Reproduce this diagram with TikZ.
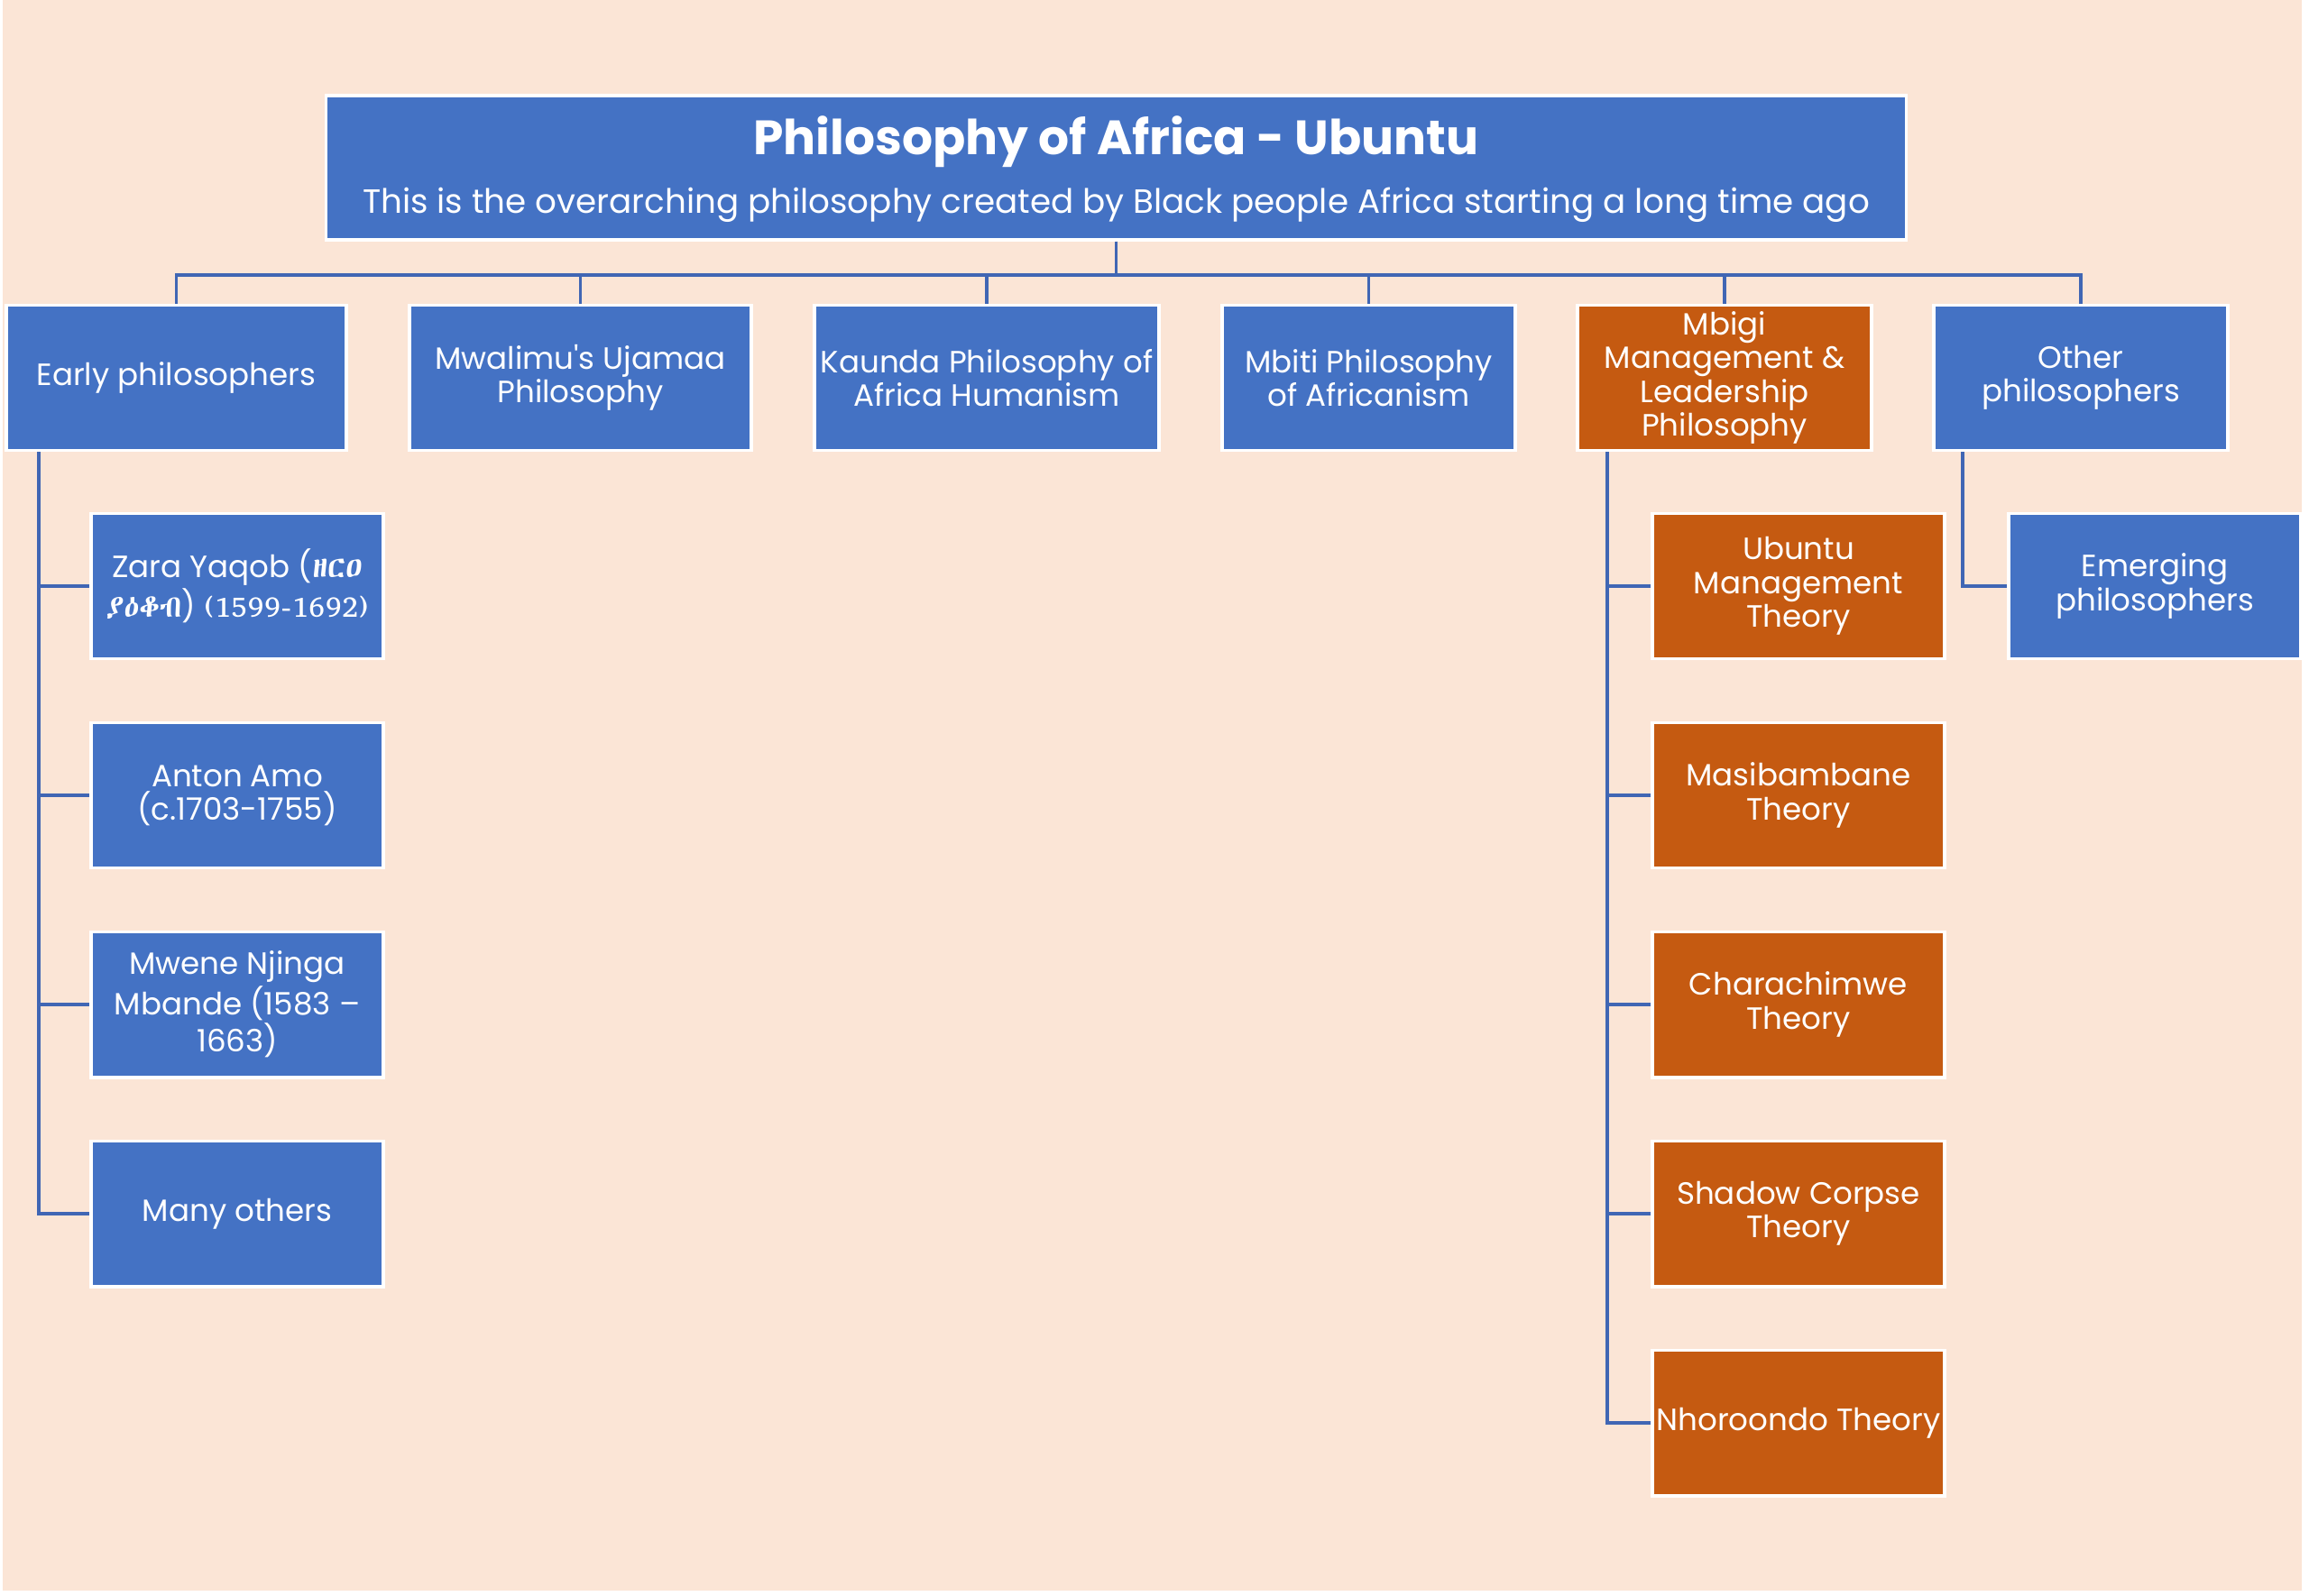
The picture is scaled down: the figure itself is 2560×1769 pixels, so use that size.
\documentclass[tikz,border=0pt]{standalone}
\usepackage{fontspec}
\setmainfont{Poppins}
\IfFontExistsTF{Abyssinica SIL}{\newfontfamily\ethfont{Abyssinica SIL}}{\IfFontExistsTF{Noto Sans Ethiopic}{\newfontfamily\ethfont{Noto Sans Ethiopic}}{\newfontfamily\ethfont{DejaVu Sans}}}
\usetikzlibrary{calc}
\definecolor{bg}{HTML}{FBE5D6}
\definecolor{blu}{HTML}{4472C4}
\definecolor{org}{HTML}{C55A11}
\definecolor{lin}{HTML}{4066B4}
\tikzset{
  box/.style={draw=white, line width=1.1pt, fill=blu, text=white, align=center, inner sep=0pt,
    font=\fontsize{9.7pt}{10.6pt}\selectfont, minimum height=1.61cm},
  obox/.style={box, fill=org},
  lvl/.style={minimum width=#1},
  kid/.style={minimum width=3.24cm},
  conn/.style={draw=lin, line width=1pt},
  txt/.style={text=white, inner sep=0pt}
}
\begin{document}
\begin{tikzpicture}[x=0.01cm,y=-0.01cm]
\fill[white] (0,0) rectangle (2560,1769);
\fill[bg] (3,0) rectangle (2552,1764);
\useasboundingbox (0,0) rectangle (2560,1769);
% root
\node[box, minimum width=17.51cm, minimum height=1.60cm] (root) at (1237.5,186) {};
\node[txt, font=\fontsize{15.2pt}{16pt}\selectfont\bfseries] (title) at (1237.5,157) {Philosophy of Africa - Ubuntu};
\node[txt, font=\fontsize{10.6pt}{11.6pt}\selectfont] (sub) at (1237.5,227) {This is the overarching philosophy created by Black people Africa starting a long time ago};
% level 1
\node[box, lvl=3.77cm] (early) at (195.5,419) {Early philosophers};
\node[box, lvl=3.79cm] (mwal) at (643.5,419) {Mwalimu\textquotesingle s Ujamaa\\Philosophy};
\node[box, lvl=3.82cm] (kaun) at (1094,419) {Kaunda Philosophy of\\Africa Humanism};
\node[box, lvl=3.25cm] (mbiti) at (1517.5,419) {Mbiti Philosophy\\of Africanism};
\node[obox, lvl=3.26cm] (mbigi) at (1912,419) {Mbigi\\Management \&\\Leadership\\Philosophy};
\node[box, lvl=3.26cm] (other) at (2307,419) {Other\\philosophers};
% early children
\node[box, kid] (zara) at (263,650) {Zara Yaqob ({\ethfont ዘርዐ}\\{\ethfont ያዕቆብ}) {\ethfont (1599-1692)}};
\node[box, kid] (anton) at (263,882) {Anton Amo\\(c.1703-1755)};
\node[box, kid] (mwene) at (263,1114) {Mwene Njinga\\Mbande (1583 –\\1663)};
\node[box, kid] (many) at (263,1346) {Many others};
% mbigi children
\node[obox, kid] (umt) at (1994,650) {Ubuntu\\Management\\Theory};
\node[obox, kid] (masi) at (1994,882) {Masibambane\\Theory};
\node[obox, kid] (chara) at (1994,1114) {Charachimwe\\Theory};
\node[obox, kid] (shadow) at (1994,1346) {Shadow Corpse\\Theory};
\node[obox, kid] (nhor) at (1994,1578) {Nhoroondo Theory};
% other child
\node[box, kid] (emerg) at (2389,650) {Emerging\\philosophers};
% connectors root -> level 1
\foreach \n in {early,mwal,kaun,mbiti,mbigi,other}
  \draw[conn] (root.south) -- ++(0,37) -| (\n.north);
% children connectors
\foreach \n in {zara,anton,mwene,many}
  \draw[conn] ($(early.south west)+(38,0)$) |- (\n.west);
\foreach \n in {umt,masi,chara,shadow,nhor}
  \draw[conn] ($(mbigi.south west)+(35,0)$) |- (\n.west);
\draw[conn] ($(other.south west)+(34,0)$) |- (emerg.west);
\end{tikzpicture}
\end{document}
